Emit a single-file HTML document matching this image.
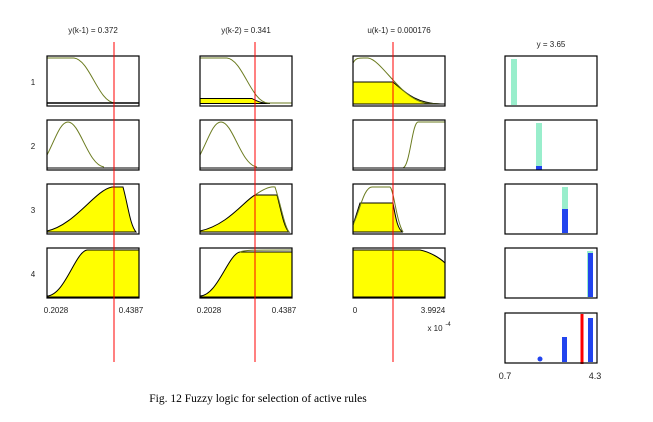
<!DOCTYPE html>
<html><head><meta charset="utf-8"><style>
html,body{margin:0;padding:0;background:#fff;}
svg{display:block;font-family:"Liberation Sans",sans-serif;}
</style></head><body>
<svg width="653" height="422" viewBox="0 0 653 422" xmlns="http://www.w3.org/2000/svg">
<g font-size="8" fill="#222" text-anchor="middle">
<text x="93" y="33">y(k-1) = 0.372</text>
<text x="246" y="33">y(k-2) = 0.341</text>
<text x="399" y="33">u(k-1) = 0.000176</text>
<text x="551" y="47">y = 3.65</text>
<text x="33" y="85">1</text><text x="33" y="149">2</text><text x="33" y="213">3</text><text x="33" y="277">4</text>
<text x="56" y="313">0.2028</text><text x="131" y="313">0.4387</text>
<text x="209" y="313">0.2028</text><text x="284" y="313">0.4387</text>
<text x="355" y="313">0</text><text x="433" y="313">3.9924</text>
<text x="435" y="331">x 10</text><text x="448" y="326" font-size="6">-4</text>
<text x="505" y="379" font-size="9">0.7</text><text x="595" y="379" font-size="9">4.3</text>
</g>
<g fill="none" stroke-width="1">
<!-- row1 -->
<path d="M47,58 L74,58 C90,60 98,102 115,103 L139,103" stroke="#6b7b1f"/>
<path d="M200,98.5 L252,98.5 C258,102 262,103 270,103.5 L200,103.5Z" fill="#ffff00" stroke="#000"/>
<path d="M200,58 L227,58 C243,60 251,102 268,103 L292,103" stroke="#6b7b1f"/>
<path d="M353,82 L393,82 C405,92 415,103 440,104 L353,104Z" fill="#ffff00" stroke="#000"/>
<path d="M353,63 C356,57 360,58 368,58 C382,60 400,98 425,103 L442,104" stroke="#6b7b1f"/>
<line x1="353" y1="104" x2="445" y2="104" stroke="#000"/>
<line x1="47" y1="103" x2="139" y2="103" stroke="#000" stroke-width="1.5"/>
<!-- row2 -->
<path d="M47,155 C55,140 60,122 68,122 C80,122 88,165 104,167" stroke="#6b7b1f"/>
<path d="M200,155 C208,140 213,122 221,122 C233,122 241,165 257,167" stroke="#6b7b1f"/>
<path d="M403,168 C410,166 412,123 418,122 L445,122" stroke="#6b7b1f"/>
<line x1="47" y1="168" x2="139" y2="168" stroke="#000"/>
<line x1="200" y1="168" x2="292" y2="168" stroke="#000"/>
<line x1="353" y1="168" x2="445" y2="168" stroke="#000"/>
<!-- row3 -->
<path d="M47,231 C75,225 95,190 112,187 L123,187 C128,205 130,225 136,232 L47,232Z" fill="#ffff00" stroke="#000"/>
<path d="M200,231 C228,225 245,200 255,195 L277,195 C281,210 284,228 289,232 L200,232Z" fill="#ffff00" stroke="#000"/>
<path d="M255,195 C262,190 270,186 275,187 C281,205 284,225 289,232" stroke="#6b7b1f"/>
<path d="M353,225 L360,203 L393,203 C396,220 398,230 403,232 L353,232Z" fill="#ffff00" stroke="#000"/>
<path d="M353,225 C360,210 364,187 372,187 L390,187 C394,190 396,220 403,232" stroke="#6b7b1f"/>
<!-- row4 -->
<path d="M47,296 C65,295 75,252 87,250 L139,250 L139,297 L47,297Z" fill="#ffff00" stroke="#000"/>
<path d="M200,296 C218,295 228,254 240,252 L292,252 L292,297 L200,297Z" fill="#ffff00" stroke="#000"/>
<path d="M240,252 C244,250 250,250 292,250" stroke="#6b7b1f"/>
<path d="M353,250 L420,250 C430,252 440,258 445,263 L445,297 L353,297Z" fill="#ffff00" stroke="#000"/>
</g>
<!-- right bars -->
<rect x="511" y="59" width="6" height="46" fill="#99eecc"/>
<rect x="536" y="123" width="6" height="46" fill="#99eecc"/>
<rect x="536" y="166" width="6" height="4" fill="#2244ee"/>
<rect x="562" y="187" width="6" height="46" fill="#99eecc"/>
<rect x="562" y="209" width="6" height="24" fill="#2244ee"/>
<rect x="587" y="251" width="6" height="46" fill="#99eecc"/>
<rect x="588" y="253" width="5" height="44" fill="#2244ee"/>
<circle cx="540" cy="359" r="2.5" fill="#2244ee"/>
<rect x="562" y="337" width="5" height="25" fill="#2244ee"/>
<rect x="588" y="318" width="5" height="44" fill="#2244ee"/>
<line x1="582" y1="314" x2="582" y2="364" stroke="#ff0000" stroke-width="3"/>
<!-- boxes -->
<g fill="none" stroke="#000" stroke-width="1.2">
<rect x="47" y="56" width="92" height="50"/><rect x="200" y="56" width="92" height="50"/><rect x="353" y="56" width="92" height="50"/><rect x="505" y="56" width="92" height="50"/>
<rect x="47" y="120" width="92" height="50"/><rect x="200" y="120" width="92" height="50"/><rect x="353" y="120" width="92" height="50"/><rect x="505" y="120" width="92" height="50"/>
<rect x="47" y="184" width="92" height="50"/><rect x="200" y="184" width="92" height="50"/><rect x="353" y="184" width="92" height="50"/><rect x="505" y="184" width="92" height="50"/>
<rect x="47" y="248" width="92" height="50"/><rect x="200" y="248" width="92" height="50"/><rect x="353" y="248" width="92" height="50"/><rect x="505" y="248" width="92" height="50"/>
<rect x="505" y="313" width="92" height="50"/>
</g>
<g stroke="#ff0000" stroke-width="1">
<line x1="114" y1="42" x2="114" y2="362"/>
<line x1="255" y1="42" x2="255" y2="362"/>
<line x1="393" y1="42" x2="393" y2="362"/>
</g>
<text x="258" y="402" font-family="'Liberation Serif',serif" font-size="11.5" text-anchor="middle" fill="#000">Fig. 12 Fuzzy logic for selection of active rules</text>
</svg>
</body></html>
